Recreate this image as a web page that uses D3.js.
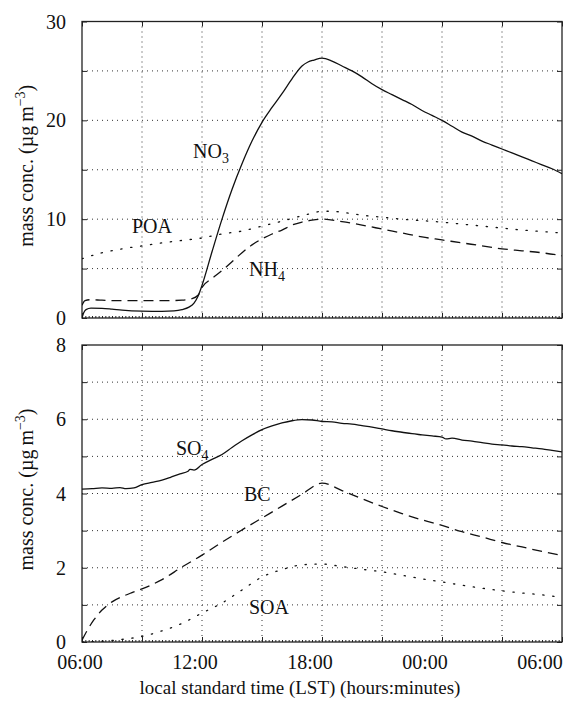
<!DOCTYPE html>
<html>
<head>
<meta charset="utf-8">
<script src="https://cdn.jsdelivr.net/npm/d3@7"></script>
<style>
  html, body { margin: 0; padding: 0; background: #fff; }
  svg { display: block; }
</style>
</head>
<body>
<svg id="chart" width="580" height="702"></svg>
<script>
// Time axis: hours since 00:00 of the first day (06:00 .. 06:00 next day)
const hourTicks = [6, 12, 18, 24, 30];
const hourTickLabels = ["06:00", "12:00", "18:00", "00:00", "06:00"];
const hourGrid = [9, 12, 15, 18, 21, 24, 27];

// Upper panel: nitrate, ammonium, primary organic aerosol (µg m-3)
const no3Hours = [6.0, 6.08, 6.2, 6.45, 7.0, 7.5, 8.0, 9.0, 10.0, 10.6, 11.0, 11.35, 11.6, 11.8, 12.0, 12.5, 13.0, 13.5, 14.0, 14.5, 15.0, 15.5, 16.0, 16.5, 17.0, 17.3, 17.6, 18.0, 18.5, 19.0, 19.5, 20.0, 20.5, 21.0, 21.5, 22.0, 22.5, 23.0, 23.5, 24.0, 24.5, 25.0, 25.5, 26.0, 26.5, 27.0, 27.5, 28.0, 28.5, 29.0, 29.5, 30.0];
const no3Values = [0.0, 0.5, 0.85, 1.0, 0.98, 0.9, 0.8, 0.7, 0.68, 0.72, 0.85, 1.1, 1.5, 2.2, 3.3, 6.7, 10.0, 13.0, 15.6, 17.9, 19.8, 21.3, 22.7, 24.2, 25.5, 25.9, 26.1, 26.3, 26.0, 25.5, 25.0, 24.4, 23.7, 23.1, 22.6, 22.1, 21.6, 21.0, 20.5, 20.0, 19.4, 18.8, 18.4, 17.9, 17.5, 17.1, 16.7, 16.3, 15.9, 15.5, 15.1, 14.6];

const nh4Hours = [6.0, 6.15, 6.4, 7.0, 8.0, 9.0, 10.0, 11.0, 11.5, 11.8, 12.0, 12.5, 13.0, 13.5, 14.0, 14.5, 15.0, 15.5, 16.0, 16.5, 17.0, 17.5, 18.0, 19.0, 20.0, 21.0, 22.0, 23.0, 24.0, 25.0, 26.0, 27.0, 28.0, 29.0, 30.0];
const nh4Values = [1.3, 1.75, 1.85, 1.8, 1.75, 1.75, 1.75, 1.8, 1.95, 2.3, 3.1, 4.0, 4.8, 5.7, 6.6, 7.4, 8.0, 8.5, 8.9, 9.4, 9.7, 9.9, 10.0, 9.75, 9.4, 9.0, 8.6, 8.2, 7.9, 7.6, 7.3, 7.0, 6.8, 6.6, 6.3];

const poaHours = [6.0, 7.0, 8.0, 9.0, 10.0, 11.0, 12.0, 13.0, 14.0, 15.0, 16.0, 17.0, 17.5, 18.0, 18.5, 19.0, 20.0, 21.0, 22.0, 23.0, 24.0, 25.0, 26.0, 27.0, 28.0, 29.0, 30.0];
const poaValues = [6.0, 6.6, 7.0, 7.3, 7.6, 7.85, 8.1, 8.5, 8.8, 9.3, 9.8, 10.35, 10.6, 10.8, 10.8, 10.7, 10.4, 10.2, 10.0, 9.85, 9.7, 9.5, 9.3, 9.1, 8.9, 8.75, 8.6];

// Lower panel: sulfate, black carbon, secondary organic aerosol (µg m-3)
const so4Hours = [6.0, 6.5, 7.0, 7.5, 7.9, 8.2, 8.6, 9.0, 9.5, 10.0, 10.4, 10.9, 11.3, 11.4, 11.6, 12.0, 12.5, 13.0, 13.5, 14.0, 14.5, 15.0, 15.5, 16.0, 16.5, 17.0, 17.5, 18.0, 18.5, 19.0, 19.5, 20.0, 20.5, 21.0, 21.5, 22.0, 22.5, 23.0, 23.5, 24.0, 24.2, 24.5, 25.0, 25.5, 26.0, 26.5, 27.0, 27.5, 28.0, 28.5, 29.0, 29.5, 30.0];
const so4Values = [4.12, 4.13, 4.15, 4.14, 4.16, 4.13, 4.15, 4.24, 4.3, 4.36, 4.43, 4.53, 4.6, 4.65, 4.63, 4.78, 4.92, 5.05, 5.24, 5.42, 5.58, 5.72, 5.82, 5.9, 5.96, 5.99, 5.98, 5.94, 5.93, 5.89, 5.87, 5.83, 5.79, 5.74, 5.69, 5.65, 5.61, 5.58, 5.55, 5.52, 5.47, 5.49, 5.44, 5.41, 5.37, 5.33, 5.31, 5.28, 5.26, 5.23, 5.2, 5.16, 5.12];

const bcHours = [6.0, 6.3, 6.6, 7.0, 7.5, 8.0, 8.5, 9.0, 10.0, 11.0, 12.0, 13.0, 14.0, 15.0, 16.0, 17.0, 18.0, 19.0, 20.0, 21.0, 22.0, 23.0, 24.0, 25.0, 26.0, 27.0, 28.0, 29.0, 30.0];
const bcValues = [0.05, 0.35, 0.6, 0.86, 1.08, 1.22, 1.33, 1.43, 1.68, 2.02, 2.34, 2.69, 3.02, 3.34, 3.66, 3.98, 4.28, 4.08, 3.86, 3.65, 3.46, 3.29, 3.14, 2.97, 2.83, 2.68, 2.56, 2.44, 2.33];

const soaHours = [6.0, 7.0, 8.0, 9.0, 10.0, 11.0, 12.0, 13.0, 14.0, 15.0, 16.0, 17.0, 18.0, 19.0, 20.0, 21.0, 22.0, 23.0, 24.0, 25.0, 26.0, 27.0, 28.0, 29.0, 30.0];
const soaValues = [0.0, 0.02, 0.07, 0.15, 0.3, 0.5, 0.78, 1.05, 1.4, 1.75, 1.95, 2.08, 2.1, 2.03, 1.96, 1.89, 1.8, 1.7, 1.62, 1.53, 1.45, 1.38, 1.32, 1.27, 1.2];

// Y ticks / labels per panel
const topTicks = [0, 10, 20, 30];
const topGrid = [5, 10, 15, 20, 25];
const bottomTicks = [0, 2, 4, 6, 8];
const bottomGrid = [1, 2, 3, 4, 5, 6, 7];

const FONT = "'Liberation Serif'";
const svg = d3.select("#chart");
const left = 82, right = 562;

// text helper: every label uses the Times-like serif directly
function addText(parent, size) {
  return parent.append("text")
    .style("font-family", FONT)
    .attr("font-size", size)
    .attr("fill", "#111");
}

const x = d3.scaleLinear().domain([6, 30]).range([left, right]);
// tick labels sit slightly left of their ticks, the last one kept inside the page
const xLabel = d3.scaleLinear().domain([6, 30]).range([80, 540]);

const panels = [
  {
    top: 21.5, bottom: 318, max: 30, ticks: topTicks, grid: topGrid, showX: false,
    series: [
      { h: no3Hours, v: no3Values, dash: null },
      { h: nh4Hours, v: nh4Values, dash: "10,6" },
      { h: poaHours, v: poaValues, dash: "1.3,8.7" }
    ],
    labels: [
      { text: "NO", sub: "3", x: 193, y: 158 },
      { text: "POA", sub: null, x: 132, y: 233 },
      { text: "NH", sub: "4", x: 249, y: 276 }
    ]
  },
  {
    top: 345, bottom: 642, max: 8, ticks: bottomTicks, grid: bottomGrid, showX: true,
    series: [
      { h: so4Hours, v: so4Values, dash: null },
      { h: bcHours, v: bcValues, dash: "10,6" },
      { h: soaHours, v: soaValues, dash: "1.3,8.7" }
    ],
    labels: [
      { text: "SO", sub: "4", x: 176, y: 455 },
      { text: "BC", sub: null, x: 244, y: 501 },
      { text: "SOA", sub: null, x: 249, y: 614 }
    ]
  }
];

panels.forEach(p => {
  const y = d3.scaleLinear().domain([0, p.max]).range([p.bottom, p.top]);
  const g = svg.append("g");

  // dotted grid
  const grid = g.append("g").attr("stroke", "#333").attr("stroke-width", 1)
    .attr("stroke-dasharray", "1,4");
  hourGrid.forEach(h => {
    grid.append("line").attr("x1", x(h)).attr("x2", x(h))
      .attr("y1", p.top).attr("y2", p.bottom);
  });
  p.grid.forEach(v => {
    grid.append("line").attr("x1", left).attr("x2", right)
      .attr("y1", y(v)).attr("y2", y(v));
  });

  // inward axes: bottom/top and left/right
  const xb = d3.axisBottom(x).tickValues(hourGrid.concat([6, 30])).tickSize(-5).tickFormat("");
  const xt = d3.axisTop(x).tickValues(hourGrid.concat([6, 30])).tickSize(-5).tickFormat("");
  const minorHours = d3.range(6, 30.001, 1 / 6);
  const xbm = d3.axisBottom(x).tickValues(minorHours).tickSize(-2).tickFormat("");
  const yl = d3.axisLeft(y).tickValues(p.grid.concat([0, p.max])).tickSize(-5).tickFormat("");
  const yr = d3.axisRight(y).tickValues(p.grid.concat([0, p.max])).tickSize(-5).tickFormat("");

  [
    [xb, `translate(0,${p.bottom})`],
    [xbm, `translate(0,${p.bottom})`],
    [xt, `translate(0,${p.top})`],
    [yl, `translate(${left},0)`],
    [yr, `translate(${right},0)`]
  ].forEach(([ax, tr]) => {
    const a = g.append("g").attr("transform", tr).call(ax);
    a.select(".domain").remove();
    a.selectAll("line").attr("stroke", "#222").attr("stroke-width", 1);
  });

  // frame
  g.append("rect").attr("x", left).attr("y", p.top)
    .attr("width", right - left).attr("height", p.bottom - p.top)
    .attr("fill", "none").attr("stroke", "#222").attr("stroke-width", 1.3);

  // y tick labels
  p.ticks.forEach(v => {
    addText(g, 20).attr("x", left - 16).attr("y", y(v) + 7)
      .attr("text-anchor", "end").text(v);
  });

  // series
  const clip = "clip" + Math.round(p.top);
  svg.append("clipPath").attr("id", clip).append("rect")
    .attr("x", left).attr("y", p.top).attr("width", right - left).attr("height", p.bottom - p.top);
  p.series.forEach(s => {
    const pts = s.h.map((h, i) => [h, s.v[i]]);
    const line = d3.line().x(d => x(d[0])).y(d => y(d[1])).curve(d3.curveMonotoneX);
    g.append("path").datum(pts).attr("d", line)
      .attr("clip-path", `url(#${clip})`)
      .attr("fill", "none").attr("stroke", "#111")
      .attr("stroke-width", 1.3)
      .attr("stroke-linecap", s.dash && s.dash.startsWith("1.3") ? "round" : "butt")
      .attr("stroke-dasharray", s.dash);
  });

  // series labels
  p.labels.forEach(l => {
    const t = addText(g, 20).attr("x", l.x).attr("y", l.y);
    t.append("tspan").text(l.text);
    if (l.sub) t.append("tspan").attr("dy", 5).attr("font-size", 14).text(l.sub);
  });

  // y axis title
  const cy = (p.top + p.bottom) / 2 - 4;
  const yt = addText(g, 20)
    .attr("transform", `translate(33,${cy}) rotate(-90)`)
    .attr("text-anchor", "middle");
  yt.append("tspan").text("mass conc. (\u00b5g\u2009m");
  yt.append("tspan").attr("dy", -8).attr("font-size", 14).text("\u22123");
  yt.append("tspan").attr("dy", 8).text(")");

  if (p.showX) {
    hourTicks.forEach((h, i) => {
      addText(g, 20).attr("x", xLabel(h)).attr("y", p.bottom + 27)
        .attr("text-anchor", "middle").text(hourTickLabels[i]);
    });
  }
});

addText(svg, 19).attr("x", 300).attr("y", 694)
  .attr("text-anchor", "middle")
  .text("local standard time (LST) (hours:minutes)");
</script>
</body>
</html>
